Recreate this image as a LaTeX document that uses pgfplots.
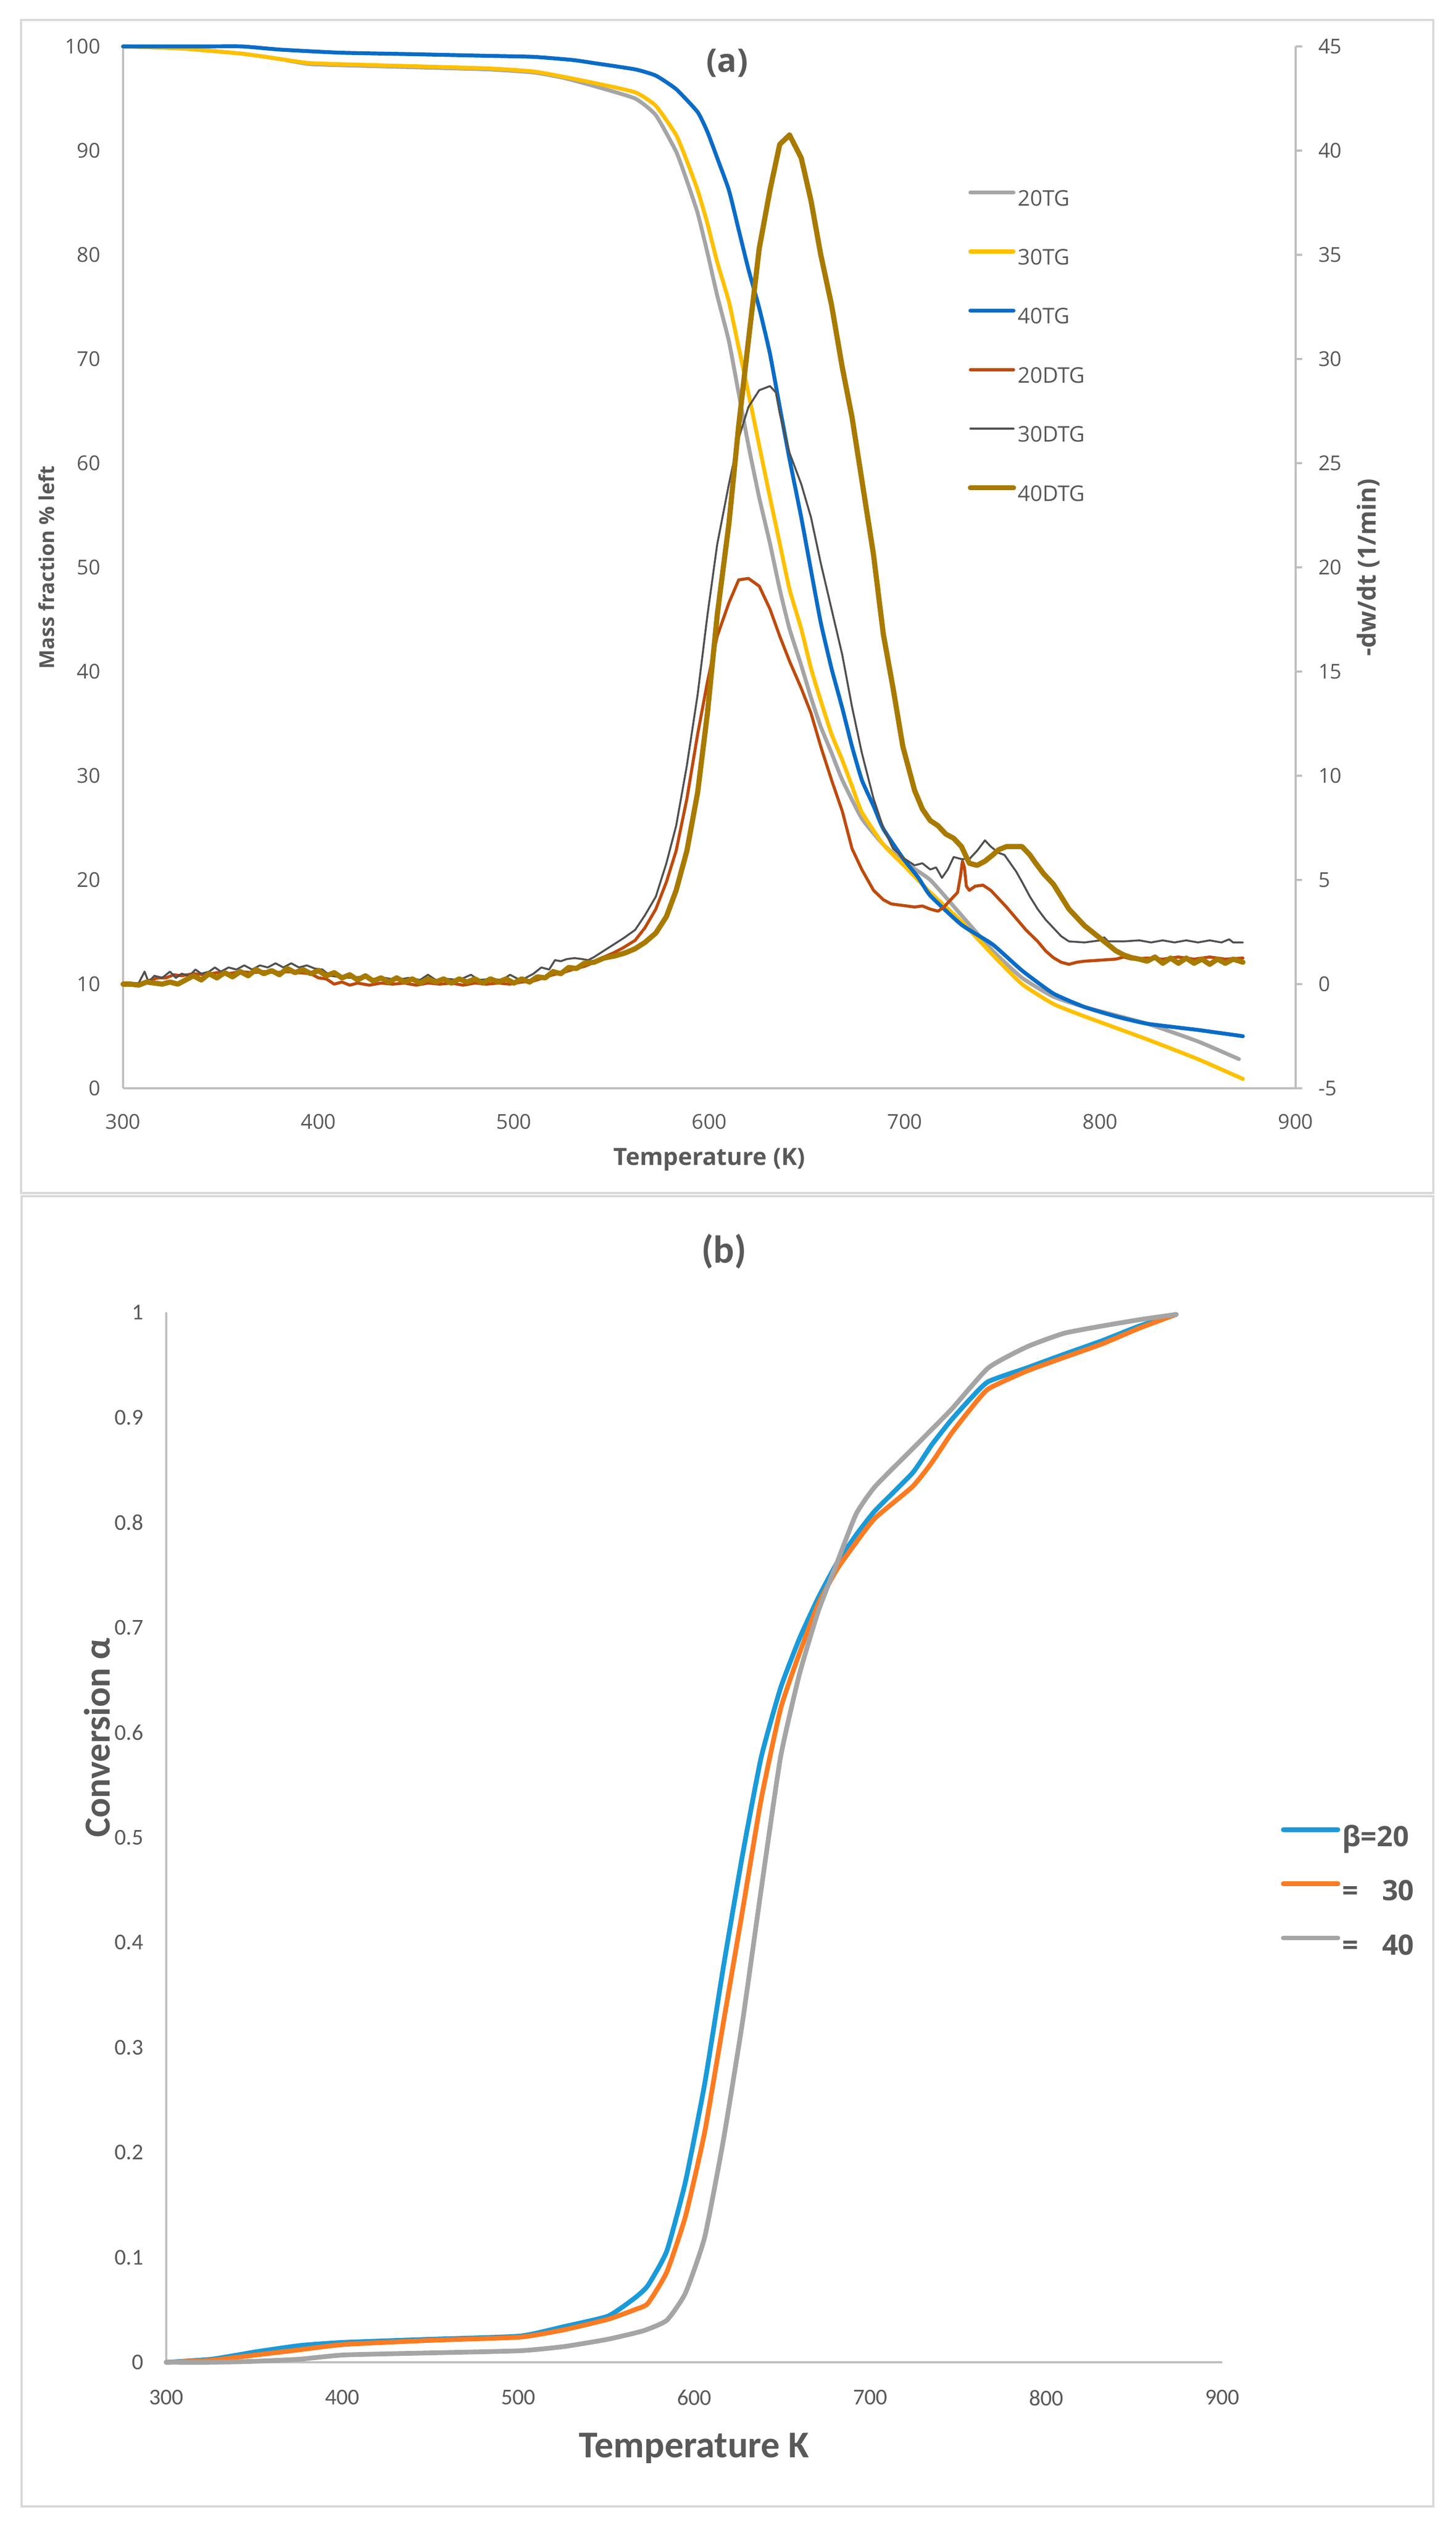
\documentclass[border=0pt]{standalone}
\usepackage{fontspec}
\setmainfont{Open Sans}
\newfontfamily\carl{Carlito}
\usepackage{pgfplots}
\pgfplotsset{compat=1.18}

\definecolor{frm}{HTML}{D9D9D9}
\definecolor{axl}{HTML}{BFBFBF}
\definecolor{lab}{HTML}{595959}
\definecolor{tgA}{HTML}{A5A5A5}
\definecolor{tgB}{HTML}{FFC000}
\definecolor{tgC}{HTML}{0A6CC6}
\definecolor{dtA}{HTML}{BE4A0C}
\definecolor{dtB}{HTML}{505050}
\definecolor{dtC}{HTML}{A87A00}
\definecolor{cvA}{HTML}{1A9AD8}
\definecolor{cvB}{HTML}{FB7B22}
\definecolor{cvC}{HTML}{A5A5A5}

\pgfplotsset{
  tgAs/.style={tgA, line width=1.8pt},
  tgBs/.style={tgB, line width=1.8pt},
  tgCs/.style={tgC, line width=1.8pt},
  dtAs/.style={dtA, line width=1.4pt},
  dtBs/.style={dtB, line width=0.9pt},
  dtCs/.style={dtC, line width=2.4pt},
}

\begin{document}
\begin{tikzpicture}
\path[use as bounding box] (0,0) rectangle (674.25pt,-1170.75pt);
\draw[frm, line width=1pt] (9.75pt,-9.25pt) rectangle (663.75pt,-552.5pt);
\draw[frm, line width=1pt] (10pt,-554pt) rectangle (663.75pt,-1160.75pt);

% ---------- (a) TG, left axis
\begin{axis}[
  at={(57pt,-504pt)}, anchor=south west, scale only axis,
  width=543pt, height=482.5pt,
  xmin=300, xmax=900, ymin=0, ymax=100,
  axis x line*=bottom, axis y line*=left,
  axis line style={axl, line width=0.8pt},
  x axis line style={line width=1.2pt},
  xtick={300,400,...,900}, ytick={0,10,...,100},
  major tick length=0pt,
  tick label style={font=\fontsize{9.5}{11}\selectfont, text=lab},
  /pgf/number format/assume math mode=true,
  yticklabel style={anchor=east, xshift=-7pt},
  xticklabel style={anchor=north, yshift=-8.4pt},
  clip=false,
  every axis plot/.append style={line join=round, line cap=round},
]
\addplot[tgAs, smooth, tension=0.3] coordinates {
(300,100) (330,99.8) (361,99.3) (380,98.8) (396,98.3) (430,98.1) (486,97.8) (510,97.5) (525,97.0) (541,96.2) (562,95.0) (572.6,93.4) (583,89.9) (588.5,87.1) (594,84.0) (599,80.2) (604,76.1) (610,71.7) (615,66.7) (620,61.7) (625.5,56.7) (631,52.3) (636,47.9) (641,44.1) (647,40.6) (652,37.5) (657,34.7) (662.5,32.2) (668,29.6) (678,25.9) (689,23.4) (699,21.8) (713,20.0) (729,16.6) (745,13.2) (760,10.6) (776,8.8) (792,7.8) (824,6.2) (850,4.5) (871,2.8)};
\addplot[tgBs, smooth, tension=0.3] coordinates {
(300,100) (330,99.8) (361,99.3) (380,98.8) (396,98.4) (430,98.2) (486,97.9) (510,97.6) (525,97.1) (541,96.5) (562,95.6) (572.6,94.3) (583,91.5) (588.5,89.0) (594,86.2) (599,83.0) (604,79.3) (610,75.5) (615,71.1) (620,66.7) (625.5,61.7) (631,56.7) (636,52.3) (641,47.9) (647,44.1) (652,40.3) (657,37.2) (662.5,34.0) (668,31.5) (673,29.0) (678,26.5) (689,23.4) (699,21.5) (713,18.8) (729,16.0) (745,12.8) (760,10.0) (776,8.1) (792,6.9) (824,4.7) (850,2.8) (873,0.9)};
\addplot[tgCs, smooth, tension=0.3] coordinates {
(300,100) (340,100) (361,100) (380,99.7) (411,99.4) (450,99.25) (486,99.1) (510,99.0) (530,98.7) (541,98.4) (562,97.8) (572.6,97.2) (583,95.9) (594,93.7) (599,91.8) (604,89.3) (610,86.2) (615,82.4) (620,78.6) (625.5,74.9) (631,70.5) (636,65.4) (641,60.4) (647,54.8) (652,49.7) (657,44.7) (662.5,40.3) (668,36.5) (673,32.8) (678,29.6) (684,27.1) (689,24.9) (699,22.1) (707,20.2) (713,18.5) (729,15.7) (745,13.8) (760,11.3) (776,9.1) (792,7.8) (808,6.9) (824,6.2) (850,5.6) (873,5.0)};
\end{axis}

% ---------- (a) DTG, right axis
\begin{axis}[
  at={(57pt,-504pt)}, anchor=south west, scale only axis,
  width=543pt, height=482.5pt,
  xmin=300, xmax=900, ymin=-5, ymax=45,
  axis x line=none, axis y line*=right,
  axis line style={axl, line width=0.8pt},
  ytick={-5,0,...,45},
  major tick length=3pt, tick align=outside,
  tick style={axl, line width=0.8pt},
  tick label style={font=\fontsize{9.5}{11}\selectfont, text=lab},
  /pgf/number format/assume math mode=true,
  yticklabel style={anchor=west, xshift=4pt},
  clip=false,
  every axis plot/.append style={line join=round, line cap=round},
  legend image code/.code={\draw[#1] (0pt,3.6pt) -- (20pt,3.6pt);},
  legend cell align=left,
  legend style={draw=none, fill=none, inner sep=0pt,
    at={(axis description cs:0.72,0.7106)}, anchor=west,
    font=\fontsize{10}{12}\selectfont, text=lab, row sep=14.35pt,
    nodes={inner xsep=0.75pt, inner ysep=2pt, text height=7pt, text depth=2pt}},
]
\addlegendimage{tgAs}\addlegendentry{20TG}
\addlegendimage{tgBs}\addlegendentry{30TG}
\addlegendimage{tgCs}\addlegendentry{40TG}
\addplot[dtAs] coordinates {
(300,0.0)(305,0.0)(310,0.05)(314,0.2)(318,0.3)(322,0.3)(326,0.45)(330,0.4)(336,0.5)(342,0.45)(348,0.55)(354,0.5)(360,0.6)(366,0.55)(372,0.6)(378,0.55)(384,0.6)(390,0.55)(396,0.5)(400,0.3)(404,0.25)(408,0.0)(412,0.1)(416,-0.05)(420,0.05)(426,-0.05)(432,0.05)(438,0.0)(444,0.05)(450,-0.05)(456,0.05)(462,0.0)(468,0.05)(474,-0.05)(480,0.05)(486,0.0)(492,0.05)(498,0.0)(504,0.1)(510,0.15)(515,0.3)(520,0.45)(525,0.55)(530,0.7)(536,0.85)(541,1.04)(546,1.3)(551,1.5)(556,1.75)(562,2.1)(567,2.7)(572.6,3.6)(578,4.9)(583,6.4)(588.5,8.9)(594,12.0)(599,14.5)(604,16.7)(610,18.3)(615,19.4)(620,19.47)(625.5,19.1)(631,18.0)(636,16.7)(641,15.5)(647,14.2)(652,13.0)(657,11.4)(662.5,9.8)(668,8.3)(673,6.5)(678,5.5)(684,4.5)(689,4.05)(693,3.85)(697,3.8)(701,3.75)(705,3.7)(709,3.75)(713,3.6)(717,3.5)(720,3.7)(722,3.9)(725,4.2)(727,4.4)(728.5,5.2)(729.5,5.9)(730.5,5.6)(731.5,4.7)(733,4.5)(736,4.7)(740,4.75)(744,4.5)(748,4.1)(752,3.7)(757,3.15)(762,2.6)(768,2.05)(772,1.6)(776,1.27)(780,1.05)(784,0.95)(788,1.05)(792,1.1)(800,1.15)(808,1.2)(812,1.3)(816,1.2)(824,1.25)(832,1.2)(840,1.3)(848,1.2)(856,1.3)(864,1.2)(873,1.25)};
\addlegendentry{20DTG}
\addplot[dtBs] coordinates {
(300,0.0)(304,0.0)(308,0.05)(311,0.6)(313,0.1)(316,0.4)(320,0.3)(324,0.6)(327,0.3)(330,0.5)(334,0.4)(337,0.7)(340,0.5)(344,0.6)(347,0.8)(350,0.6)(354,0.8)(358,0.7)(362,0.9)(366,0.7)(370,0.9)(374,0.8)(378,1.0)(382,0.8)(386,1.0)(390,0.8)(394,0.9)(398,0.75)(402,0.7)(406,0.4)(410,0.35)(416,0.3)(422,0.35)(428,0.25)(434,0.3)(440,0.2)(446,0.3)(452,0.2)(456,0.45)(460,0.2)(466,0.25)(472,0.2)(478,0.45)(482,0.2)(488,0.25)(494,0.2)(498,0.45)(502,0.25)(506,0.3)(510,0.5)(514,0.8)(518,0.7)(521,1.15)(524,1.1)(527,1.2)(531,1.25)(535,1.2)(538,1.15)(541,1.3)(546,1.6)(551,1.9)(556,2.2)(562,2.6)(567,3.3)(572.6,4.2)(578,5.8)(583,7.6)(588.5,10.5)(594,13.9)(599,17.7)(604,21.1)(610,24.0)(615,26.2)(620,27.7)(625.5,28.5)(631,28.7)(634,28.4)(636,27.4)(641,25.5)(647,24.0)(652,22.4)(657,20.2)(662.5,18.0)(668,15.8)(673,13.3)(678,11.1)(684,8.9)(689,7.5)(694,6.5)(699,6.07)(705,5.7)(709,5.8)(713,5.5)(716,5.6)(719,5.1)(722,5.5)(725,6.1)(729,6.0)(733,6.0)(737,6.4)(741,6.9)(744,6.6)(748,6.3)(751,6.2)(754,5.8)(757,5.4)(760,4.9)(764,4.2)(768,3.6)(772,3.1)(776,2.7)(780,2.3)(784,2.05)(792,2.0)(800,2.1)(802,2.25)(804,2.05)(812,2.05)(820,2.1)(826,2.0)(832,2.1)(838,2.0)(844,2.1)(850,2.0)(856,2.1)(862,2.0)(866,2.15)(868,2.0)(873,2.0)};
\addlegendentry{30DTG}
\addplot[dtCs] coordinates {
(300,0.0)(304,0.0)(308,-0.05)(312,0.1)(316,0.05)(320,0.0)(324,0.1)(328,0.0)(332,0.2)(336,0.4)(340,0.2)(344,0.5)(348,0.3)(352,0.55)(356,0.35)(360,0.6)(364,0.4)(368,0.7)(372,0.5)(376,0.65)(380,0.45)(384,0.75)(388,0.55)(392,0.7)(396,0.5)(400,0.65)(404,0.4)(408,0.55)(412,0.3)(416,0.45)(420,0.2)(424,0.4)(428,0.15)(432,0.3)(436,0.1)(440,0.3)(444,0.1)(448,0.25)(452,0.05)(456,0.25)(460,0.1)(464,0.25)(468,0.05)(472,0.25)(476,0.1)(480,0.25)(484,0.05)(488,0.25)(492,0.1)(496,0.25)(500,0.05)(504,0.25)(508,0.1)(512,0.35)(516,0.3)(520,0.6)(524,0.5)(528,0.8)(532,0.75)(536,1.0)(541,1.05)(546,1.25)(551.5,1.35)(557,1.5)(562,1.7)(567,2.0)(572.6,2.45)(578,3.24)(583,4.5)(588.5,6.4)(594,9.2)(599,13.0)(604,17.7)(610,22.1)(615,26.8)(620,30.9)(625.5,35.3)(631,38.1)(636,40.3)(641,40.75)(647,39.65)(652,37.6)(657,35.0)(662.5,32.6)(668,29.6)(673,27.2)(678,24.2)(684,20.6)(689,16.8)(694,14.2)(699,11.4)(705,9.3)(709,8.4)(713,7.85)(717,7.6)(721,7.2)(725,7.0)(729,6.6)(733,5.8)(737,5.7)(741,5.9)(745,6.2)(748,6.45)(752,6.6)(756,6.6)(760,6.6)(764,6.2)(767,5.8)(771,5.3)(776,4.8)(780,4.2)(784,3.6)(788,3.2)(792,2.8)(796,2.5)(800,2.2)(804,1.9)(808,1.6)(812,1.4)(816,1.27)(820,1.2)(824,1.1)(828,1.3)(832,1.0)(836,1.25)(840,1.0)(844,1.25)(848,1.0)(852,1.2)(856,0.95)(860,1.2)(864,1.0)(868,1.2)(873,1.05)};
\addlegendentry{40DTG}
\end{axis}

\node[font=\bfseries\fontsize{15}{18}\selectfont, text=lab] at (336.75pt,-29.25pt) {(a)};
\node[font=\bfseries\fontsize{11}{13}\selectfont, text=lab] at (328.5pt,-537pt) {Temperature (K)};
\node[rotate=90, font=\bfseries\fontsize{9.5}{11}\selectfont, text=lab] at (21.5pt,-262.75pt) {Mass fraction \% left};
\node[rotate=90, font=\bfseries\fontsize{11.5}{13}\selectfont, text=lab] at (633.75pt,-262.75pt) {-dw/dt (1/min)};

% ---------- (b) conversion
\begin{axis}[
  at={(77pt,-1094pt)}, anchor=south west, scale only axis,
  width=489pt, height=486.25pt,
  xmin=300, xmax=900, ymin=0, ymax=1,
  axis x line*=bottom, axis y line*=left,
  axis line style={axl, line width=0.8pt},
  x axis line style={line width=1.2pt},
  xtick={300,400,...,900},
  ytick={0,0.1,0.2,0.3,0.4,0.5,0.6,0.7,0.8,0.9,1},
  major tick length=0pt,
  tick label style={font=\carl\fontsize{10.5}{12}\selectfont, text=lab},
  /pgf/number format/assume math mode=true,
  yticklabel style={anchor=east, xshift=-7pt, /pgf/number format/fixed},
  xticklabel style={anchor=north, yshift=-9.3pt},
  clip=false,
  every axis plot/.append style={line join=round, line cap=round, smooth, tension=0.3},
  legend image code/.code={\draw[#1] (0pt,4.6pt) -- (25.25pt,4.6pt);},
  legend cell align=left,
  legend style={draw=none, fill=none, inner sep=0pt,
    at={(axis description cs:1.0552,0.4463)}, anchor=west,
    font=\bfseries\fontsize{13}{15}\selectfont, text=lab, row sep=8.6pt,
    nodes={inner xsep=1pt, inner ysep=2pt, text height=9.5pt, text depth=3pt}},
]
\addplot[cvA, line width=2.2pt] coordinates {
(300,0) (326,0.003) (351,0.010) (376,0.016) (401,0.019) (451,0.022) (501,0.025) (526,0.034) (551,0.044) (566,0.061) (573.6,0.073) (584.4,0.106) (595,0.172) (605.9,0.265) (616.6,0.377) (627.4,0.483) (638,0.576) (649,0.642) (659.7,0.689) (670.4,0.728) (681,0.761) (692,0.788) (702.7,0.811) (724,0.847) (735,0.874) (745.8,0.897) (756.5,0.917) (767,0.934) (788.8,0.947) (810,0.960) (831.8,0.973) (853,0.987) (873.8,0.998)};
\addlegendentry{β=20}
\addplot[cvB, line width=2.2pt] coordinates {
(300,0) (326,0.002) (351,0.007) (376,0.012) (401,0.017) (451,0.021) (501,0.024) (526,0.031) (551,0.041) (566,0.050) (573.6,0.056) (584.4,0.086) (595,0.139) (605.9,0.219) (616.6,0.324) (627.4,0.430) (638,0.536) (649,0.622) (659.7,0.675) (670.4,0.722) (681,0.755) (692,0.781) (702.7,0.804) (724,0.834) (735,0.857) (745.8,0.884) (756.5,0.907) (767,0.927) (788.8,0.944) (810,0.957) (831.8,0.970) (853,0.985) (873.8,0.998)};
\addlegendentry{=\hspace{11pt}30}
\addplot[cvC, line width=2.2pt] coordinates {
(300,0) (326,0) (351,0.001) (376,0.003) (401,0.007) (451,0.009) (501,0.011) (526,0.015) (551,0.022) (571,0.030) (584.4,0.040) (595,0.066) (605.9,0.119) (616.6,0.212) (627.4,0.324) (638,0.450) (649,0.576) (659.7,0.655) (670.4,0.715) (681,0.761) (692,0.808) (702.7,0.834) (724,0.870) (745.8,0.907) (767,0.947) (788.8,0.967) (810,0.980) (831.8,0.987) (853,0.993) (873.8,0.998)};
\addlegendentry{=\hspace{11pt}40}
\end{axis}

\node[font=\carl\bfseries\fontsize{18}{21}\selectfont, text=lab] at (335.25pt,-579.5pt) {(b)};
\node[rotate=90, font=\carl\bfseries\fontsize{17}{20}\selectfont, text=lab] at (45pt,-804.75pt) {Conversion α};
\node[font=\carl\bfseries\fontsize{17.5}{20}\selectfont, text=lab] at (321.5pt,-1133.75pt) {Temperature K};
\end{tikzpicture}
\end{document}
